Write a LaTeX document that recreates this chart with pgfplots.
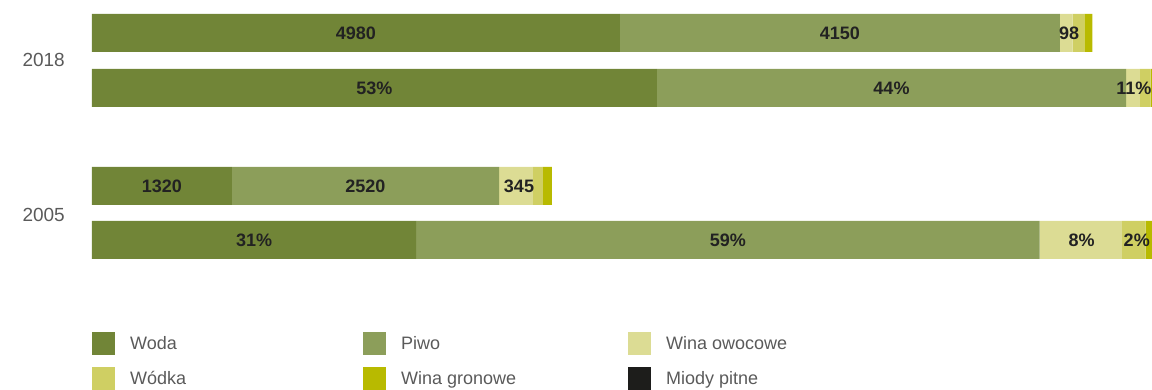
\documentclass[border=0pt]{standalone}
\usepackage{pgfplots}
\pgfplotsset{compat=1.18}
\usepackage{fontspec}
\setmainfont{Liberation Sans}
\definecolor{cWoda}{HTML}{718537}
\definecolor{cPiwo}{HTML}{8C9E5A}
\definecolor{cOwoc}{HTML}{DCDC94}
\definecolor{cWodka}{HTML}{CFCF63}
\definecolor{cGron}{HTML}{B8BA00}
\definecolor{cMiod}{HTML}{1D1D1B}
\definecolor{txtgray}{HTML}{5A5A5A}
\definecolor{lbl}{HTML}{222222}
\newcommand{\lf}{\fontsize{18}{20}\selectfont}
\begin{document}
\begin{tikzpicture}
\pgfplotsset{
  base/.style={
    xbar stacked, bar width=38pt,
    scale only axis, width=1060pt, height=390pt,
    at={(0pt,0pt)}, anchor=south west,
    ymin=0, ymax=390,
    axis line style={draw=none}, tick style={draw=none},
    xtick=\empty, major tick length=0pt,
    clip=true,
    point meta=explicit symbolic,
    nodes near coords,
    every node near coord/.append style={anchor=center,
      font=\lf\bfseries, text=lbl, inner sep=0pt},
  },
}
\begin{axis}[base, xmin=0, xmax=10000,
  ytick={330,175}, yticklabels={\mbox{2018},\mbox{2005}},
  yticklabel style={font=\fontsize{19}{21}\selectfont, text=txtgray, inner sep=0pt, xshift=-27pt},
  legend columns=3, legend cell align=left,
  legend style={at={(axis description cs:0,{58/390})}, anchor=north west,
    draw=none, fill=none, inner sep=0pt, row sep=12pt,
    font=\lf, text=txtgray, nodes={inner sep=0pt}},
]
\addplot[fill=cWoda, draw=none, legend image code/.code={\fill[cWoda] (0pt,-11.5pt) rectangle (23pt,11.5pt);}]
  coordinates {(4980,357) [4980] (1320,204) [1320]};
\addlegendentry{\hspace{15pt}\makebox[233pt][l]{Woda}}
\addplot[fill=cPiwo, draw=none, legend image code/.code={\fill[cPiwo] (0pt,-11.5pt) rectangle (23pt,11.5pt);}]
  coordinates {(4150,357) [4150] (2520,204) [2520]};
\addlegendentry{\hspace{15pt}\makebox[227pt][l]{Piwo}}
\addplot[fill=cOwoc, draw=none, every node near coord/.append style={xshift=3pt}, legend image code/.code={\fill[cOwoc] (0pt,-11.5pt) rectangle (23pt,11.5pt);}]
  coordinates {(120,357) [98] (320,204) [345]};
\addlegendentry{\hspace{15pt}\makebox[150pt][l]{Wina owocowe}}
\addplot[fill=cWodka, draw=none, legend image code/.code={\fill[cWodka] (0pt,-11.5pt) rectangle (23pt,11.5pt);}]
  coordinates {(113,357) [\relax] (94,204) [\relax]};
\addlegendentry{\hspace{15pt}\makebox[233pt][l]{Wódka}}
\addplot[fill=cGron, draw=none, legend image code/.code={\fill[cGron] (0pt,-11.5pt) rectangle (23pt,11.5pt);}]
  coordinates {(75,357) [\relax] (85,204) [\relax]};
\addlegendentry{\hspace{15pt}\makebox[227pt][l]{Wina gronowe}}
\addplot[fill=cMiod, draw=none, legend image code/.code={\fill[cMiod] (0pt,-11.5pt) rectangle (23pt,11.5pt);}]
  coordinates {(0,357) [\relax] (0,204) [\relax]};
\addlegendentry{\hspace{15pt}\makebox[150pt][l]{Miody pitne}}
\end{axis}
\begin{axis}[base, xmin=0, xmax=99.44, ytick=\empty]
\addplot[fill=cWoda, draw=none] coordinates {(53,302) [53\%] (30.4,150) [31\%]};
\addplot[fill=cPiwo, draw=none] coordinates {(44,302) [44\%] (58.5,150) [59\%]};
\addplot[fill=cOwoc, draw=none, every node near coord/.append style={xshift=1pt}] coordinates {(1.3,302) [11\%] (7.7,150) [8\%]};
\addplot[fill=cWodka, draw=none, every node near coord/.append style={xshift=3pt}] coordinates {(1.0,302) [\relax] (2.25,150) [2\%]};
\addplot[fill=cGron, draw=none] coordinates {(1.0,302) [\relax] (1.15,150) [\relax]};
\addplot[fill=cMiod, draw=none] coordinates {(0,302) [\relax] (0,150) [\relax]};
\end{axis}
\pgfresetboundingbox
\useasboundingbox (-92pt,0pt) rectangle (1060pt,390pt);
\end{tikzpicture}
\end{document}
